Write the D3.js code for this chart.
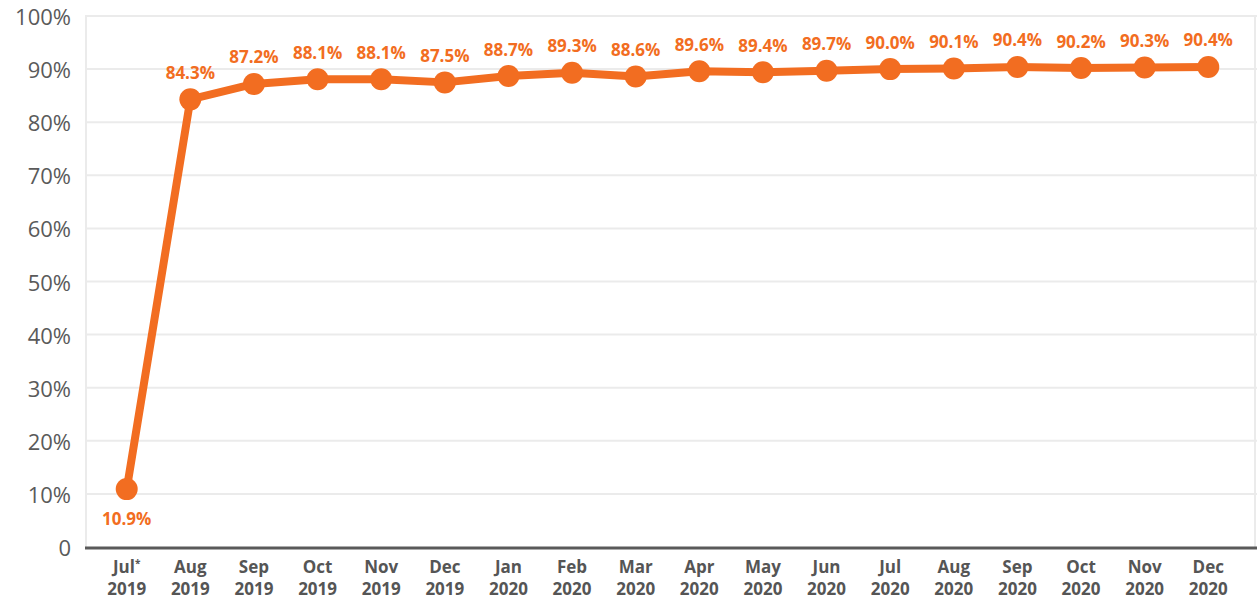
<!DOCTYPE html>
<html>
<head>
<meta charset="utf-8">
<script src="https://cdn.jsdelivr.net/npm/d3@7"></script>
<style>
  body { margin: 0; background: #fff; }
  svg { display: block; font-family: 'Open Sans', sans-serif; }
</style>
</head>
<body>
<div id="chart"></div>
<script>
const months = ['Jul', 'Aug', 'Sep', 'Oct', 'Nov', 'Dec', 'Jan', 'Feb', 'Mar', 'Apr', 'May', 'Jun', 'Jul', 'Aug', 'Sep', 'Oct', 'Nov', 'Dec'];
const years = ['2019', '2019', '2019', '2019', '2019', '2019', '2020', '2020', '2020', '2020', '2020', '2020', '2020', '2020', '2020', '2020', '2020', '2020'];
const values = [10.9, 84.3, 87.2, 88.1, 88.1, 87.5, 88.7, 89.3, 88.6, 89.6, 89.4, 89.7, 90.0, 90.1, 90.4, 90.2, 90.3, 90.4];
const yTicks = [0, 10, 20, 30, 40, 50, 60, 70, 80, 90, 100];

const width = 1257;
const height = 600;
const orange = '#f26d21';
const grey = '#555';

const keys = months.map((m, i) => i);

const x = d3.scalePoint()
  .domain(keys)
  .range([86, 1249])
  .padding(0.64);

const y = d3.scaleLinear()
  .domain([0, 100])
  .range([547, 16]);

const svg = d3.select('#chart').append('svg')
  .attr('width', width)
  .attr('height', height);

// grid
svg.append('g')
  .selectAll('line')
  .data(yTicks.filter((d) => d > 0))
  .join('line')
  .attr('x1', 85)
  .attr('x2', width)
  .attr('y1', (d) => y(d))
  .attr('y2', (d) => y(d))
  .attr('stroke', '#ebebeb')
  .attr('stroke-width', 2);

svg.append('line')
  .attr('x1', 86).attr('x2', 86)
  .attr('y1', y(100)).attr('y2', y(0))
  .attr('stroke', '#ebebeb').attr('stroke-width', 2);

svg.append('line')
  .attr('x1', 1255).attr('x2', 1255)
  .attr('y1', y(100)).attr('y2', y(0))
  .attr('stroke', '#ebebeb').attr('stroke-width', 2);

// y labels
svg.append('g')
  .selectAll('text')
  .data(yTicks)
  .join('text')
  .attr('x', 71)
  .attr('y', (d) => y(d))
  .attr('text-anchor', 'end')
  .attr('dominant-baseline', 'central')
  .attr('fill', '#5a5a5a')
  .style('font-size', '22px')
  .text((d) => (d === 0 ? '0' : `${d}%`));

// bottom axis
svg.append('line')
  .attr('x1', 85).attr('x2', width)
  .attr('y1', 548).attr('y2', 548)
  .attr('stroke', '#5a5a5a').attr('stroke-width', 3);

const xl = svg.append('g')
  .selectAll('text')
  .data(keys)
  .join('text')
  .attr('text-anchor', 'middle')
  .attr('fill', grey)
  .style('font-size', '17px')
  .style('font-weight', 'bold');

xl.append('tspan')
  .attr('x', (d) => x(d))
  .attr('y', 573)
  .text((d) => months[d])
  .filter((d) => d === 0)
  .append('tspan')
  .attr('dy', -6)
  .style('font-size', '10px')
  .text('*');

xl.append('tspan')
  .attr('x', (d) => x(d))
  .attr('y', 595)
  .text((d) => years[d]);

// line
const line = d3.line()
  .x((d, i) => x(i))
  .y((d) => y(d));

svg.append('path')
  .datum(values)
  .attr('fill', 'none')
  .attr('stroke', orange)
  .attr('stroke-width', 8)
  .attr('stroke-linejoin', 'round')
  .attr('d', line);

svg.append('g')
  .selectAll('circle')
  .data(values)
  .join('circle')
  .attr('cx', (d, i) => x(i))
  .attr('cy', (d) => y(d))
  .attr('r', 11)
  .attr('fill', orange);

svg.append('g')
  .selectAll('text')
  .data(values)
  .join('text')
  .attr('x', (d, i) => x(i))
  .attr('y', (d, i) => (i === 0 ? y(d) + 29 : y(d) - 27))
  .attr('text-anchor', 'middle')
  .attr('dominant-baseline', 'central')
  .attr('fill', orange)
  .style('font-size', '17px')
  .style('font-weight', 'bold')
  .text((d) => `${d.toFixed(1)}%`);
</script>
</body>
</html>
